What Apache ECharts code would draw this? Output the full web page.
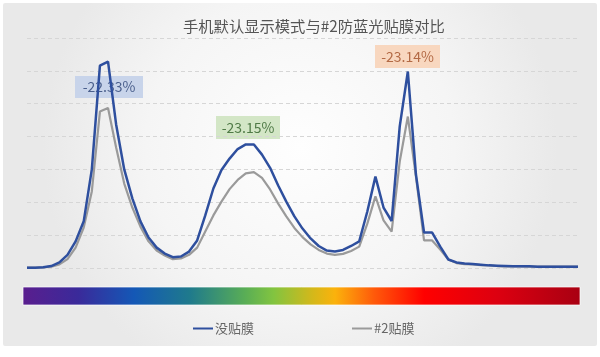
<!DOCTYPE html>
<html>
<head>
<meta charset="utf-8">
<script src="https://cdn.jsdelivr.net/npm/echarts@6/dist/echarts.min.js"></script>
<style>
html,body{margin:0;padding:0;background:#ffffff;}
#chart{width:600px;height:357px;}
</style>
</head>
<body>
<div id="chart"></div>
<script>
var titleText = '手机默认显示模式与#2防蓝光贴膜对比';
var seriesNames = ['没贴膜', '#2贴膜'];
var categories = [];
for (var i = 0; i < 69; i++) categories.push(String(i));

var noFilm = [0.01,0.01,0.02,0.06,0.17,0.40,0.81,1.42,3.00,6.16,
  6.28,4.37,3.00,2.12,1.42,0.93,0.62,0.44,0.33,0.35,
  0.50,0.84,1.60,2.42,2.98,3.33,3.62,3.76,3.76,3.45,
  3.05,2.51,2.02,1.57,1.20,0.90,0.67,0.53,0.50,0.55,
  0.67,0.81,1.72,2.78,1.84,1.43,4.31,5.98,2.85,1.08,
  1.08,0.65,0.26,0.17,0.14,0.12,0.10,0.08,0.07,0.06,
  0.05,0.05,0.05,0.04,0.04,0.04,0.04,0.04,0.04];
var film2 = [0.01,0.01,0.02,0.04,0.11,0.27,0.62,1.23,2.33,4.76,
  4.87,3.67,2.57,1.84,1.26,0.81,0.53,0.38,0.27,0.29,
  0.40,0.62,1.11,1.60,2.02,2.40,2.68,2.88,2.92,2.74,
  2.39,1.96,1.57,1.22,0.94,0.72,0.55,0.44,0.40,0.43,
  0.52,0.65,1.35,2.18,1.45,1.11,3.24,4.61,2.78,0.84,
  0.84,0.56,0.26,0.15,0.12,0.11,0.09,0.08,0.06,0.05,
  0.05,0.05,0.04,0.04,0.04,0.04,0.04,0.04,0.04];
var annoTexts = ['-22.33%', '-23.15%', '-23.14%'];

var chart = echarts.init(document.getElementById('chart'));
var font = '"Noto Sans CJK SC", "Noto Sans", sans-serif';

function anno(text, x, y, w, h, bg, color) {
  return {
    type: 'group', left: x, top: y, z: 0,
    children: [
      {type: 'rect', z: 0, shape: {x: 0, y: 0, width: w, height: h}, style: {fill: bg}},
      {type: 'text', z: 0, x: w / 2, y: h / 2, style: {text: text, fill: color, font: '14px ' + font, textAlign: 'center', textVerticalAlign: 'middle'}}
    ]
  };
}

var option = {
  backgroundColor: '#ffffff',
  animation: false,
  title: {
    text: titleText, left: 183, top: 19, padding: 0,
    textStyle: {fontSize: 15.3, fontWeight: 'normal', color: '#555555', fontFamily: font}
  },
  legend: {
    data: seriesNames, left: 193, top: 322, itemGap: 98, padding: 0,
    itemWidth: 20, itemHeight: 2, icon: 'rect',
    textStyle: {fontSize: 13, color: '#666666', fontFamily: font, padding: [0, 0, 0, -3]}
  },
  grid: {left: 27, right: 22, top: 38, height: 230},
  xAxis: {
    type: 'category', data: categories, boundaryGap: false,
    axisLine: {show: false}, axisTick: {show: false}, axisLabel: {show: false}, splitLine: {show: false}
  },
  yAxis: {
    type: 'value', min: 0, max: 7, interval: 1,
    axisLine: {show: false}, axisTick: {show: false}, axisLabel: {show: false},
    splitLine: {show: true, lineStyle: {type: [4, 3], color: '#d6d6d6', width: 1}}
  },
  graphic: [
    {type: 'rect', z: -10, shape: {x: 3, y: 3, width: 594, height: 343, r: 2},
     style: {fill: {type: 'radial', x: 0.5, y: 0.42, r: 0.75,
       colorStops: [{offset: 0, color: '#fefefe'}, {offset: 0.6, color: '#f5f5f5'}, {offset: 1, color: '#e9e9e9'}]}}},
    {type: 'rect', z: 1, shape: {x: 23, y: 287, width: 557, height: 18},
     style: {stroke: 'rgba(255,255,255,0.7)', lineWidth: 1,
       fill: {type: 'linear', x: 0, y: 0, x2: 1, y2: 0, colorStops: [
         {offset: 0, color: '#5a1e8e'},
         {offset: 0.1, color: '#3a2a9a'},
         {offset: 0.2, color: '#1458b6'},
         {offset: 0.3, color: '#1f7a8c'},
         {offset: 0.4, color: '#5aae55'},
         {offset: 0.45, color: '#82c440'},
         {offset: 0.52, color: '#d4b81a'},
         {offset: 0.56, color: '#fbb20c'},
         {offset: 0.63, color: '#ff5a0a'},
         {offset: 0.72, color: '#ff0000'},
         {offset: 0.85, color: '#dd0010'},
         {offset: 1, color: '#a80012'}]}}},
    anno(annoTexts[0], 75, 76, 68, 22, '#c8d4ea', '#4a5f8c'),
    anno(annoTexts[1], 216, 116, 64, 23, '#d3e6c6', '#4f7a46'),
    anno(annoTexts[2], 375, 45, 65, 23, '#f8d7bf', '#b36a45')
  ],
  series: [
    {name: seriesNames[0], type: 'line', data: noFilm, symbol: 'none', z: 3,
     lineStyle: {color: '#2e4f9e', width: 2.5}, itemStyle: {color: '#2e4f9e'}},
    {name: seriesNames[1], type: 'line', data: film2, symbol: 'none', z: 2,
     lineStyle: {color: '#9a9a9a', width: 2.2}, itemStyle: {color: '#9a9a9a'}}
  ]
};
chart.setOption(option);
</script>
</body>
</html>
